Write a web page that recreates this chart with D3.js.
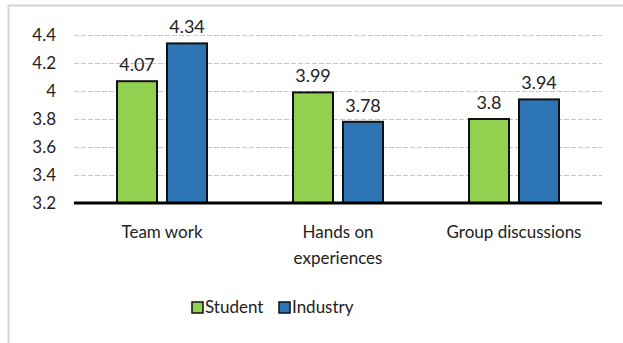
<!DOCTYPE html>
<html>
<head>
<meta charset="utf-8">
<script src="https://cdn.jsdelivr.net/npm/d3@7"></script>
<style>
  body { margin: 0; background: #fff; }
  text { font-family: Lato, "Open Sans", sans-serif; fill: #222; }
</style>
</head>
<body>
<svg width="623" height="343"></svg>
<script>
// data
var categories = [["Team work"], ["Hands on", "experiences"], ["Group discussions"]];
var seriesNames = ["Student", "Industry"];
var student = [4.07, 3.99, 3.8];
var industry = [4.34, 3.78, 3.94];
var yTicks = [3.2, 3.4, 3.6, 3.8, 4, 4.2, 4.4];
var colors = ["#92d050", "#2e75b6"];

var rows = categories.map(function(c, i) {
    return {name: c.join(" "), lines: c, values: [student[i], industry[i]]};
});

var svg = d3.select("svg");

// chart frame
svg.append("line").attr("x1", 8.5).attr("x2", 8.5).attr("y1", 5).attr("y2", 343)
    .attr("stroke", "#d4d4d4").attr("stroke-width", 2);
svg.append("line").attr("x1", 8).attr("x2", 623).attr("y1", 5.5).attr("y2", 5.5)
    .attr("stroke", "#d4d4d4").attr("stroke-width", 2);

var plotLeft = 74, plotRight = 602, plotTop = 35, plotBottom = 203;

var y = d3.scaleLinear().domain([3.2, 4.4]).range([plotBottom, plotTop]);

var x0 = d3.scaleBand()
    .domain(rows.map(function(d) { return d.name; }))
    .range([plotLeft, plotRight]);

var x1 = d3.scaleBand()
    .domain(seriesNames)
    .range([43, 133])
    .paddingInner(0.2);

// gridlines
svg.append("g")
    .selectAll("line")
    .data(yTicks.slice(1))
    .enter()
    .append("line")
    .attr("x1", plotLeft).attr("x2", plotRight)
    .attr("y1", function(d) { return Math.round(y(d)) + 0.5; })
    .attr("y2", function(d) { return Math.round(y(d)) + 0.5; })
    .attr("stroke", "#c8c8c8")
    .attr("stroke-dasharray", "5,2");

// y axis labels
var yAxis = svg.append("g")
    .attr("transform", "translate(" + (plotLeft - 10) + ",0)")
    .call(d3.axisLeft(y).tickValues(yTicks).tickSize(0).tickPadding(8).tickFormat(d3.format("")));
yAxis.select(".domain").remove();
yAxis.selectAll("text").style("font-size", "17px").style("font-family", "Lato, sans-serif")
    .attr("fill", "#222").attr("dy", "0.35em");

// bars
var groups = svg.append("g")
    .selectAll("g")
    .data(rows)
    .enter()
    .append("g")
    .attr("transform", function(d) { return "translate(" + x0(d.name) + ",0)"; });

groups.selectAll("rect")
    .data(function(d) { return d.values.map(function(v, i) { return {key: seriesNames[i], value: v, i: i}; }); })
    .enter()
    .append("rect")
    .attr("x", function(d) { return x1(d.key); })
    .attr("width", x1.bandwidth())
    .attr("y", function(d) { return y(d.value); })
    .attr("height", function(d) { return plotBottom - y(d.value); })
    .attr("fill", function(d) { return colors[d.i]; })
    .attr("stroke", "#111")
    .attr("stroke-width", 2);

groups.selectAll("text.val")
    .data(function(d) { return d.values.map(function(v, i) { return {key: seriesNames[i], value: v}; }); })
    .enter()
    .append("text")
    .attr("class", "val")
    .attr("x", function(d) { return x1(d.key) + x1.bandwidth() / 2; })
    .attr("y", function(d) { return y(d.value) - 10; })
    .attr("text-anchor", "middle")
    .style("font-size", "18px")
    .text(function(d) { return d.value; });

// baseline
svg.append("line")
    .attr("x1", plotLeft).attr("x2", plotRight)
    .attr("y1", plotBottom).attr("y2", plotBottom)
    .attr("stroke", "#000").attr("stroke-width", 3);

// category labels
var xAxis = svg.append("g");
rows.forEach(function(r) {
    var t = xAxis.append("text")
        .attr("x", x0(r.name) + x0.bandwidth() / 2)
        .attr("y", 238)
        .attr("text-anchor", "middle")
        .style("font-size", "17px");
    r.lines.forEach(function(l, i) {
        t.append("tspan")
            .attr("x", x0(r.name) + x0.bandwidth() / 2)
            .attr("dy", i == 0 ? 0 : 26)
            .text(l);
    });
});

// legend
var legendX = [192, 279];
var legend = svg.append("g")
    .selectAll("g")
    .data(seriesNames)
    .enter()
    .append("g")
    .attr("transform", function(d, i) { return "translate(" + legendX[i] + ",302)"; });

legend.append("rect")
    .attr("width", 11).attr("height", 11)
    .attr("fill", function(d, i) { return colors[i]; })
    .attr("stroke", "#111").attr("stroke-width", 1.5);

legend.append("text")
    .attr("x", 13).attr("y", 11)
    .style("font-size", "17px")
    .text(function(d) { return d; });
</script>
</body>
</html>
